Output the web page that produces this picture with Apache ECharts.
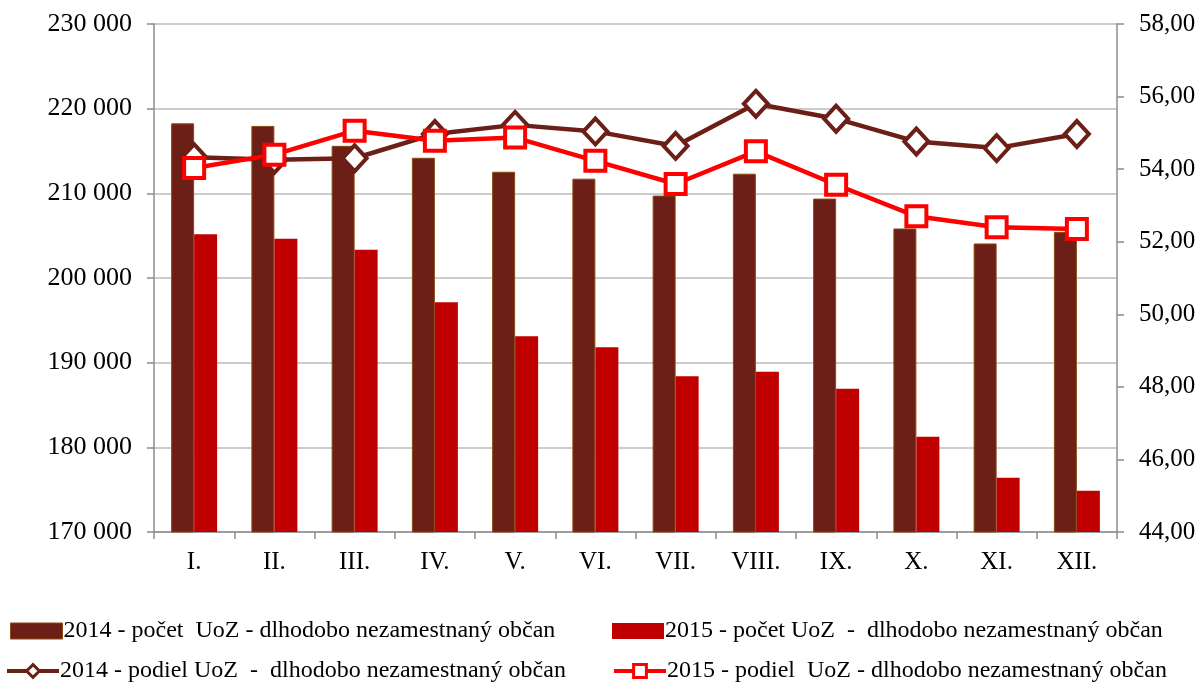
<!DOCTYPE html>
<html>
<head>
<meta charset="utf-8">
<script src="https://cdn.jsdelivr.net/npm/echarts@6/dist/echarts.min.js"></script>
<style>
  html, body { margin: 0; padding: 0; background: #fff; }
  #chart { width: 1201px; height: 684px; }
</style>
</head>
<body>
<div id="chart"></div>
<script>
/* Data */
var months = ['I.', 'II.', 'III.', 'IV.', 'V.', 'VI.', 'VII.', 'VIII.', 'IX.', 'X.', 'XI.', 'XII.'];
var count2014 = [218270, 217960, 215610, 214200, 212550, 211730, 209730, 212320, 209380, 205850, 204080, 205450];
var count2015 = [205180, 204630, 203330, 197150, 193120, 191810, 188410, 188930, 186920, 181260, 176410, 174870];
var share2014 = [54.33, 54.26, 54.30, 54.97, 55.22, 55.04, 54.64, 55.80, 55.39, 54.76, 54.58, 54.97];
var share2015 = [54.03, 54.40, 55.06, 54.78, 54.87, 54.23, 53.59, 54.49, 53.57, 52.70, 52.40, 52.35];

var names = {
  c14: '2014 - počet  UoZ - dlhodobo nezamestnaný občan',
  c15: '2015 - počet UoZ  -  dlhodobo nezamestnaný občan',
  s14: '2014 - podiel UoZ  -  dlhodobo nezamestnaný občan',
  s15: '2015 - podiel  UoZ - dlhodobo nezamestnaný občan'
};

var serif = '"Liberation Serif", "Times New Roman", serif';
var axisGray = '#8c8c8c';

var chart = echarts.init(document.getElementById('chart'));

// one legend per item, placed like the original two-column layout
var legendItem = function (name, left, top, icon, markerBorder) {
  return {
    left: left,
    top: top,
    data: [{ name: name, icon: icon }],
    itemWidth: 52,
    itemHeight: 16,
    padding: 0,
    lineStyle: { width: 4 },
    itemStyle: { borderWidth: markerBorder },
    textStyle: { fontFamily: serif, fontSize: 24, color: '#000', padding: [0, 0, 0, -4] }
  };
};

chart.setOption({
  animation: false,
  backgroundColor: '#fff',
  grid: { left: 154, right: 84, top: 24, bottom: 152, containLabel: false },
  legend: [
    legendItem(names.c14, 10, 619, 'rect', 1),
    legendItem(names.c15, 612, 619, 'rect', 0),
    legendItem(names.s14, 5, 659, undefined, 3),
    legendItem(names.s15, 612, 659, undefined, 3)
  ],
  xAxis: {
    type: 'category',
    data: months,
    axisLine: { lineStyle: { color: axisGray, width: 1.5 } },
    axisTick: { show: true, length: 7, lineStyle: { color: axisGray, width: 1.5 } },
    axisLabel: { fontFamily: serif, fontSize: 25, color: '#000', margin: 18 }
  },
  yAxis: [{
    type: 'value',
    min: 170000,
    max: 230000,
    interval: 10000,
    axisLine: { show: true, lineStyle: { color: axisGray, width: 1.5 } },
    axisTick: { show: true, length: 7, lineStyle: { color: axisGray, width: 1.5 } },
    splitLine: { lineStyle: { color: '#cccccc', width: 2 } },
    axisLabel: {
      fontFamily: serif, fontSize: 26, color: '#000', margin: 22,
      formatter: function (v) { return String(v).replace(/\B(?=(\d{3})+(?!\d))/g, ' '); }
    }
  }, {
    type: 'value',
    min: 44,
    max: 58,
    interval: 2,
    position: 'right',
    axisLine: { show: true, lineStyle: { color: axisGray, width: 1.5 } },
    axisTick: { show: true, length: 7, lineStyle: { color: axisGray, width: 1.5 } },
    splitLine: { show: false },
    axisLabel: {
      fontFamily: serif, fontSize: 25, color: '#000', margin: 22,
      formatter: function (v) { return v.toFixed(2).replace('.', ','); }
    }
  }],
  series: [{
    name: names.c14,
    type: 'bar',
    data: count2014,
    barWidth: 23,
    barGap: '0%',
    itemStyle: { color: '#6c1f16', borderColor: '#8a4a12', borderWidth: 1 }
  }, {
    name: names.c15,
    type: 'bar',
    data: count2015,
    barWidth: 23,
    itemStyle: { color: '#c00000', borderWidth: 0 }
  }, {
    name: names.s14,
    type: 'line',
    yAxisIndex: 1,
    data: share2014,
    symbol: 'diamond',
    symbolSize: [24, 26],
    lineStyle: { color: '#6c1f16', width: 4.5 },
    itemStyle: { color: '#fff', borderColor: '#6c1f16', borderWidth: 4 }
  }, {
    name: names.s15,
    type: 'line',
    yAxisIndex: 1,
    data: share2015,
    symbol: 'rect',
    symbolSize: 20,
    lineStyle: { color: '#ff0000', width: 4.5 },
    itemStyle: { color: '#fff', borderColor: '#ff0000', borderWidth: 4 }
  }]
});
</script>
</body>
</html>
